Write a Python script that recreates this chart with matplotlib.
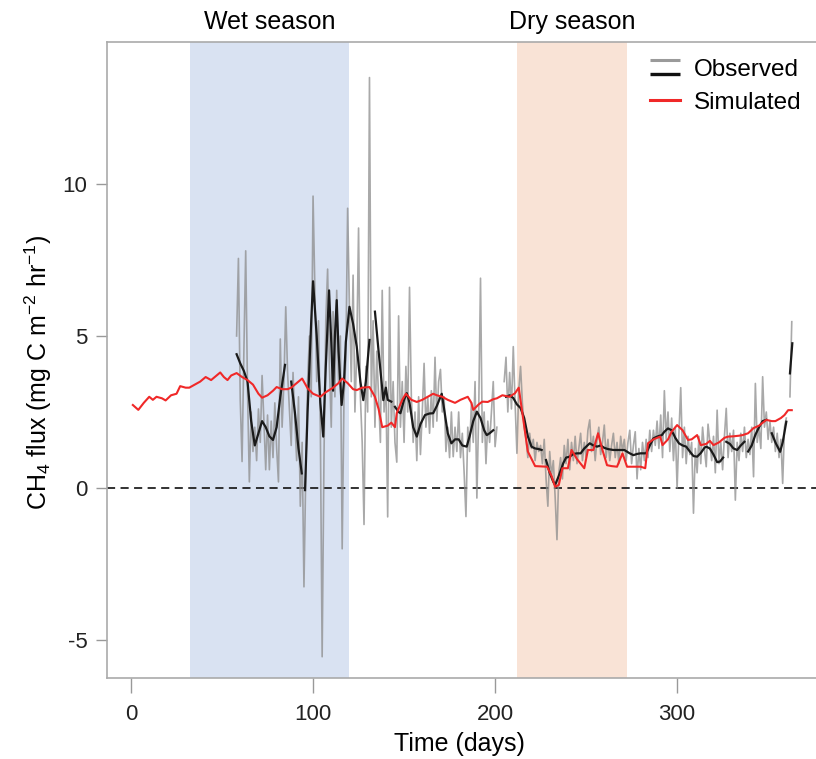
import numpy as np
import matplotlib
matplotlib.use("Agg")
from matplotlib import pyplot as plt
from matplotlib.lines import Line2D
from matplotlib.legend_handler import HandlerBase
from matplotlib.transforms import blended_transform_factory

plt.rcParams['font.family'] = ['Liberation Sans', 'DejaVu Sans']
plt.rcParams['mathtext.default'] = 'regular'
plt.rcParams['axes.unicode_minus'] = False

# seasons (days)
wet_season = (32.4, 119.8)
dry_season = (212.0, 272.5)

# observed daily flux, days 58..363 (nan = no data)
obs_start = 58
obs_vals = [
    5.0, 7.55, 2.9, 0.87, 4.5, 7.8, 3.2, 0.2, 2.5, 1.2,          # 58-67
    2.0, 0.9, 2.6, 1.5, 3.7, 2.2, 0.6, 2.4, 0.6, 2.2,            # 68-77
    1.0, 2.8, 1.3, 0.2, 4.9, 2.0, 3.5, 5.96, 3.8, 2.6,           # 78-87
    1.4, 3.8, 2.2, 0.9, 3.0, -0.6, 1.5, -3.25, 0.5, 3.5,         # 88-97
    5.0, 3.0, 9.6, 6.5, 3.5, 5.5, 2.0, -5.55, 1.0, 5.5,          # 98-107
    7.2, 4.0, 2.0, 5.8, 3.0, 6.5, 3.5, 5.0, -2.0, 3.0,           # 108-117
    4.2, 9.2, 6.0, 3.5, 7.0, 2.5, 4.5, 8.55, 3.0, 1.5,           # 118-127
    -1.2, 4.0, 2.5, 13.5, 3.0, 5.5, 2.0, 4.5, 3.0, 1.5,          # 128-137
    6.5, 2.5, 3.5, -0.95, 6.6, 2.0, 3.5, 1.5, 0.85, 5.66,        # 138-147
    2.0, 3.5, 1.5, 4.0, 2.5, 6.6, 3.0, 1.5, 2.5, 0.9,            # 148-157
    3.0, 1.1, 2.5, 4.1, 2.0, 3.0, 1.8, 3.2, 2.0, 4.3,            # 158-167
    2.2, 3.5, 3.9, 2.5, 3.0, 1.2, 2.0, 1.0, 2.5, 1.03,           # 168-177
    2.0, 1.2, 2.5, 1.0, 1.8, 0.5, -0.94, 2.0, 1.2, 2.8,          # 178-187
    1.5, 3.5, -0.33, 2.5, 6.9, 1.5, 2.5, 0.8, 2.2, 1.5,          # 188-197
    2.5, 3.5, 1.36, 2.0, np.nan, np.nan, np.nan, 3.5, 4.3, 2.5,  # 198-207
    3.8, 2.6, 4.65, 2.8, 1.14, 3.2, 4.0, 2.8, 2.0, 1.6,          # 208-217
    1.0, 1.8, 1.3, 1.6, 0.9, 1.5, 1.2, 1.4, 0.8, 1.6,            # 218-227
    0.3, -0.6, 1.2, 0.4, 0.9, -0.3, -1.7, 0.5, 1.0, 0.3,         # 228-237
    1.4, 0.8, 1.6, 0.6, 1.5, 0.9, 1.7, 0.8, 1.3, 1.8,            # 238-247
    0.9, 1.5, 1.0, 1.9, 2.24, 1.2, 1.7, 0.9, 1.6, 2.0,           # 248-257
    1.1, 1.5, 2.07, 1.0, 1.6, 0.9, 1.4, 1.8, 1.0, 1.5,           # 258-267
    0.8, 1.7, 1.2, 1.6, 0.9, 1.5, 1.9, 0.8, 1.4, 1.85,           # 268-277
    0.3, 1.3, 0.6, 1.5, 0.9, 1.6, 1.0, 1.9, 1.2, 1.9,            # 278-287
    1.4, 2.2, 1.3, 2.4, 1.0, 3.2, 1.6, 2.5, 1.2, 2.3,            # 288-297
    0.9, 2.0, 0.0, 1.8, 3.3, 1.0, 2.0, 0.8, 1.7, 1.1,            # 298-307
    1.5, -0.83, 1.3, 0.5, 1.7, 0.8, 2.0, 1.3, 0.7, 2.1,          # 308-317
    1.5, 0.9, 1.7, 0.5, 2.56, 0.8, 1.5, 0.6, 1.7, 2.62,          # 318-327
    1.0, 1.8, 1.2, 1.9, -0.4, 1.5, 0.9, 1.8, 1.2, 2.0,           # 328-337
    1.0, 1.6, 1.1, 2.0, 0.37, 3.44, 1.5, 2.0, 1.3, 3.66,         # 338-347
    2.0, 2.5, 1.6, 2.2, 1.5, 2.0, 1.2, 1.8, 1.0, 1.6,            # 348-357
    0.15, 2.0, 2.3, np.nan, 3.0, 5.47,                           # 358-363
]
obs_days = np.arange(obs_start, obs_start + len(obs_vals))

# smoothed observations (nan = break)
smooth_days = [58, 60, 62, 64, 66, 68, 70, 72, 74, 76, 78, 80, 82, 84.6, np.nan,
               88, 90, 92, 93.8, np.nan,
               95.6, 97, 99, 100, 102, 104, 105.6, 107, 108.8, 110, 111, 112, 113,
               114, 115.7, 117, 118, 120, 122, 124, 126, 127.6, 129, 131, np.nan,
               134, 136, 138.6, 140, 141, 143, np.nan,
               145, 147, 148, 150, 151.5, 153, 155, 157, 159, 161.5, 164, 166, 168,
               170.7, 172, 174, 176, 178, 180, 182, 184.4, 186, 188, 190, 192, 194,
               195.4, 197, 199, np.nan,
               206, 208, 210, 212, 214, 216, 218, 220, 222, 224, 225.6, np.nan,
               228, 230, 232, 233, 235, 237.5, 239, 241, 243, 245, 247, 249, 252,
               254, 256, 258, 260, 262, 265, 268, 271, 274, 276, 278, 280, 283, 285,
               287, 289, 291.6, 293, 295, 297, 299, 301, 303, 305, 307, 309, 311,
               313, 315, 316, 318, 320, 322, 323.6, 325.3, np.nan,
               327, 329, 331, 333, 335, 337, np.nan,
               339, 341, 343, 345, 347, 349, np.nan,
               352, 354, 356.6, 358, 360, np.nan,
               362, 363.3]
smooth_vals = [4.4, 4.1, 3.85, 3.5, 2.2, 1.4, 1.8, 2.2, 2.0, 1.7, 1.58, 2.0, 3.0, 4.05, np.nan,
               3.5, 2.5, 1.3, 0.48, np.nan,
               -0.07, 2.5, 5.5, 6.8, 5.0, 2.8, 1.69, 4.0, 6.5, 4.8, 3.2, 5.0, 6.18,
               4.5, 2.73, 3.5, 4.8, 5.96, 5.4, 4.65, 3.5, 2.89, 3.5, 4.87, np.nan,
               5.8, 4.5, 2.89, 3.3, 2.9, 2.84, np.nan,
               2.67, 2.5, 2.46, 2.9, 3.12, 2.8, 2.0, 1.69, 2.1, 2.4, 2.45, 2.46, 2.7,
               3.1, 2.6, 1.8, 1.47, 1.6, 1.6, 1.4, 1.36, 1.7, 2.2, 2.51, 2.3, 1.9,
               1.74, 1.8, 1.9, np.nan,
               3.0, 3.05, 2.96, 2.75, 2.63, 2.3, 1.7, 1.36, 1.3, 1.28, 1.25, np.nan,
               0.92, 0.5, 0.2, 0.1, 0.4, 0.82, 1.0, 1.03, 1.12, 1.14, 1.14, 1.3, 1.47,
               1.4, 1.36, 1.4, 1.32, 1.28, 1.25, 1.25, 1.25, 1.14, 1.08, 1.12, 1.14, 1.14, 1.4,
               1.63, 1.69, 1.74, 1.85, 1.96, 1.9, 1.65, 1.47, 1.4, 1.36, 1.2, 1.05, 1.03,
               1.15, 1.32, 1.36, 1.3, 1.1, 0.85, 0.87, 1.0, np.nan,
               1.52, 1.45, 1.3, 1.25, 1.4, 1.52, np.nan,
               1.2, 1.4, 1.75, 2.0, 2.2, 2.24, np.nan,
               1.8, 1.5, 1.19, 1.5, 2.18, np.nan,
               3.77, 4.76]

# simulated flux
sim_days = [1, 4, 7, 10, 12, 14, 17, 19, 22, 25, 27, 30, 32, 35, 38, 41, 44, 47, 49,
            51, 53, 55, 58, 61, 64, 67, 70, 72, 75, 78, 80, 83, 86, 88, 91, 94, 97,
            100, 104, 107, 111, 114, 116, 119, 122, 124, 127, 131, 134, 136, 138,
            141, 143, 145, 146, 149, 151, 154, 157, 160, 163, 166, 168, 171, 174,
            178, 181, 185, 187, 188, 191, 193, 196, 199, 201, 204, 208, 211, 213,
            218, 222, 228.6, 231, 233, 235, 237, 240, 242, 245, 249, 251, 254,
            256.6, 259, 261.5, 264, 267, 270, 272.5, 275, 280, 282.5, 284, 287,
            290.7, 292, 295, 297, 300, 303, 306, 308, 311, 313, 316, 318, 320, 323,
            326, 328, 331, 334, 336, 339, 342, 345, 349, 352, 354, 357, 359, 361, 363]
sim_vals = [2.73, 2.57, 2.8, 3.0, 2.9, 3.0, 2.95, 2.88, 3.05, 3.1, 3.35, 3.3, 3.3,
            3.4, 3.5, 3.65, 3.55, 3.7, 3.8, 3.65, 3.55, 3.7, 3.78, 3.65, 3.55, 3.4,
            3.1, 2.97, 3.05, 3.2, 3.32, 3.25, 3.25, 3.3, 3.45, 3.6, 3.28, 3.1, 3.0,
            3.15, 3.3, 3.45, 3.6, 3.45, 3.25, 3.22, 3.3, 3.32, 3.0, 2.6, 2.0, 2.05,
            2.15, 2.0, 2.47, 2.9, 3.1, 2.9, 2.83, 2.9, 3.0, 3.1, 3.05, 3.0, 2.9, 2.8,
            2.9, 3.0, 2.8, 2.57, 2.75, 2.84, 2.83, 2.92, 2.95, 3.05, 3.0, 3.12, 3.3,
            1.2, 0.72, 0.7, 0.4, 0.04, 0.1, 0.65, 0.65, 1.25, 0.95, 0.65, 1.25, 1.25,
            1.8, 1.25, 0.75, 0.72, 0.7, 1.14, 0.7, 0.7, 0.7, 0.65, 1.47, 1.6, 1.69,
            1.41, 1.6, 1.85, 2.07, 1.9, 1.58, 1.6, 1.74, 1.41, 1.45, 1.55, 1.41, 1.5,
            1.65, 1.69, 1.7, 1.72, 1.74, 1.8, 1.97, 2.05, 2.24, 2.2, 2.2, 2.3, 2.4,
            2.56, 2.56]

yticks = [-5, 0, 5, 10]
xticks = [0, 100, 200, 300]


class DoubleLineHandler(HandlerBase):
    def create_artists(self, legend, orig_handle, xdescent, ydescent,
                       width, height, fontsize, trans):
        yc = height / 2 - ydescent
        top = Line2D([-xdescent, width - xdescent], [yc + 5.5, yc + 5.5],
                     color='#9a9a9a', lw=2.2, solid_capstyle='butt')
        bot = Line2D([-xdescent, width - xdescent], [yc - 4.5, yc - 4.5],
                     color='#111111', lw=2.4, solid_capstyle='butt')
        top.set_transform(trans)
        bot.set_transform(trans)
        return [top, bot]


fig = plt.figure(figsize=(8.16, 7.59), dpi=100)
ax = fig.add_axes([107 / 816, 81 / 759, 723 / 816, 636 / 759])

ax.axvspan(*wet_season, color='#d9e2f2', lw=0, zorder=0)
ax.axvspan(*dry_season, color='#f9e3d6', lw=0, zorder=0)
ax.axhline(0, color='#222222', lw=1.3, ls=(0, (4.5, 3)), zorder=1)

ax.plot(obs_days, obs_vals, color='#8c8c8c', lw=1.2, alpha=0.75, zorder=2)
ax.plot(smooth_days, smooth_vals, color='#1a1a1a', lw=1.6, zorder=3)
ax.plot(sim_days, sim_vals, color='#f02828', lw=1.5, zorder=4)

ax.set_xlim(-13.2, 384)
ax.set_ylim(-6.25, 14.67)
ax.set_xticks(xticks)
ax.set_yticks(yticks)

for side in ['left', 'bottom', 'top']:
    ax.spines[side].set_color('#aaaaaa')
    ax.spines[side].set_linewidth(1.2)
ax.spines['right'].set_visible(False)
ax.tick_params(axis='x', length=11, width=1, color='#999999', pad=8,
               labelsize=16, labelcolor='#222222')
ax.tick_params(axis='y', length=8, width=1, color='#999999', pad=6,
               labelsize=16, labelcolor='#222222')

ax.set_xlabel('Time (days)', fontsize=18)
ax.xaxis.set_label_coords(0.488, -0.085)
ax.set_ylabel('CH$_4$ flux (mg C m$^{-2}$ hr$^{-1}$)', fontsize=18)
ax.yaxis.set_label_coords(-0.073, 0.48)

trans = blended_transform_factory(ax.transData, ax.transAxes)
ax.text(sum(wet_season) / 2, 1.013, 'Wet season', transform=trans,
        ha='center', va='bottom', fontsize=18)
ax.text(sum(dry_season) / 2, 1.013, 'Dry season', transform=trans,
        ha='center', va='bottom', fontsize=18)

obs_proxy = Line2D([], [], color='#9a9a9a')
sim_proxy = Line2D([], [], color='#f02828', lw=2.2)
fig.legend([obs_proxy, sim_proxy], ['Observed', 'Simulated'],
           handler_map={obs_proxy: DoubleLineHandler()},
           loc='upper left', bbox_to_anchor=(650 / 816, 1 - 59 / 759),
           frameon=False, fontsize=17.5, handlelength=1.25, handletextpad=0.55,
           labelspacing=0.45, borderpad=0, borderaxespad=0)

fig.savefig('out.png', dpi=100)
